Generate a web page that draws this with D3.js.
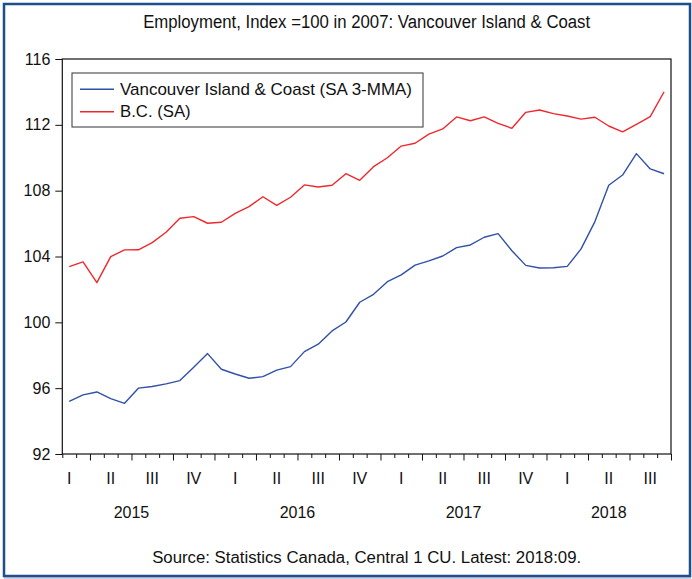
<!DOCTYPE html>
<html>
<head>
<meta charset="utf-8">
<script src="https://cdn.jsdelivr.net/npm/d3@7"></script>
<style>
  body { margin: 0; background: #fff; }
  svg text { font-family: "Liberation Sans", Arial, sans-serif; fill: #111; }
</style>
</head>
<body>
<svg id="chart" width="692" height="579"></svg>
<script>
// monthly periods, Jan 2015 - Aug 2018
const months = [
  '2015:01','2015:02','2015:03','2015:04','2015:05','2015:06','2015:07','2015:08','2015:09','2015:10','2015:11','2015:12',
  '2016:01','2016:02','2016:03','2016:04','2016:05','2016:06','2016:07','2016:08','2016:09','2016:10','2016:11','2016:12',
  '2017:01','2017:02','2017:03','2017:04','2017:05','2017:06','2017:07','2017:08','2017:09','2017:10','2017:11','2017:12',
  '2018:01','2018:02','2018:03','2018:04','2018:05','2018:06','2018:07','2018:08'
];

const vancouverIsland = [
  95.2, 95.59, 95.77, 95.36, 95.08, 96.0, 96.1, 96.26, 96.46, 97.27, 98.1, 97.15,
  96.86, 96.6, 96.7, 97.1, 97.31, 98.22, 98.67, 99.48, 100.02, 101.22, 101.7, 102.47,
  102.88, 103.48, 103.73, 104.03, 104.54, 104.7, 105.17, 105.39, 104.35, 103.46, 103.3, 103.32,
  103.4, 104.46, 106.12, 108.33, 108.95, 110.25, 109.32, 109.03
];

const bc = [
  103.38, 103.67, 102.41, 103.99, 104.4, 104.41, 104.84, 105.47, 106.32, 106.42, 106.02, 106.08,
  106.62, 107.03, 107.63, 107.11, 107.6, 108.35, 108.22, 108.33, 109.03, 108.63, 109.46, 110.0,
  110.71, 110.88, 111.44, 111.75, 112.48, 112.25, 112.48, 112.09, 111.79, 112.76, 112.9, 112.68,
  112.54, 112.35, 112.46, 111.93, 111.57, 112.03, 112.5, 114.01
];

const quarterLabels = ['I','II','III','IV','I','II','III','IV','I','II','III','IV','I','II','III'];
const yearLabels = ['2015','2016','2017','2018'];
const yTicks = [92, 96, 100, 104, 108, 112, 116];

const seriesNames = ['Vancouver Island & Coast (SA 3-MMA)', 'B.C. (SA)'];
const seriesColors = ['#3150a8', '#f0282d'];

const svg = d3.select('#chart');
const plot = { left: 62.3, right: 671, top: 59, bottom: 454 };

// outer frame
svg.append('line')
  .attr('x1', 4).attr('x2', 691).attr('y1', 578).attr('y2', 578)
  .attr('stroke', '#b4c2d8').attr('stroke-width', 1.5);
svg.append('rect')
  .attr('x', 4).attr('y', 4).attr('width', 686).attr('height', 572)
  .attr('fill', 'none').attr('stroke', '#1f4e8c').attr('stroke-width', 2.5);

const x = d3.scaleLinear().domain([0, months.length]).range([plot.left, plot.right]);
const y = d3.scaleLinear().domain([92, 116]).range([plot.bottom, plot.top]);

// title
svg.append('text')
  .attr('x', (plot.left + plot.right) / 2).attr('y', 27.5)
  .attr('text-anchor', 'middle')
  .attr('font-size', 18)
  .attr('textLength', 447).attr('lengthAdjust', 'spacingAndGlyphs')
  .text('Employment, Index =100 in 2007: Vancouver Island & Coast');

// y axis
const yAxis = d3.axisLeft(y).tickValues(yTicks).tickSize(7).tickPadding(5);
const gy = svg.append('g')
  .attr('transform', `translate(${plot.left},0)`)
  .call(yAxis);
gy.select('.domain').remove();
gy.selectAll('.tick line').attr('stroke', '#111');
gy.selectAll('.tick text')
  .attr('font-size', 16)
  .attr('font-family', '"Liberation Sans", Arial, sans-serif')
  .attr('fill', '#111');

// x axis: monthly ticks at period boundaries
const xAxis = d3.axisBottom(x).tickValues(d3.range(0, months.length + 1)).tickSize(4).tickFormat('');
const gx = svg.append('g')
  .attr('transform', `translate(0,${plot.bottom})`)
  .call(xAxis);
gx.select('.domain').remove();
gx.selectAll('.tick line')
  .attr('stroke', '#111')
  .attr('y2', d => d % 3 === 2 ? 6.5 : 4);

// plot frame
svg.append('rect')
  .attr('x', plot.left).attr('y', plot.top)
  .attr('width', plot.right - plot.left).attr('height', plot.bottom - plot.top)
  .attr('fill', 'none').attr('stroke', '#111').attr('stroke-width', 1.2);

// quarter and year labels
const qPos = quarterLabels.map((q, i) => x(i * 3 + 0.5));
svg.append('g').selectAll('text')
  .data(quarterLabels)
  .join('text')
  .attr('x', (d, i) => qPos[i])
  .attr('y', 483.5)
  .attr('text-anchor', 'middle')
  .attr('font-size', 16)
  .text(d => d);

svg.append('g').selectAll('text')
  .data(yearLabels)
  .join('text')
  .attr('x', (d, i) => d3.mean(qPos.slice(i * 4, i * 4 + 4)))
  .attr('y', 518)
  .attr('text-anchor', 'middle')
  .attr('font-size', 16)
  .text(d => d);

// lines
const line = d3.line()
  .x((d, i) => x(i + 0.5))
  .y(d => y(d));

[vancouverIsland, bc].forEach((s, k) => {
  svg.append('path')
    .datum(s)
    .attr('d', line)
    .attr('fill', 'none')
    .attr('stroke', seriesColors[k])
    .attr('stroke-width', 1.4)
    .attr('stroke-linejoin', 'round');
});

// legend
const legend = svg.append('g');
legend.append('rect')
  .attr('x', 72).attr('y', 73).attr('width', 351).attr('height', 54)
  .attr('fill', '#fff').attr('stroke', '#333').attr('stroke-width', 1);
const legendTextLen = [292, 70.7];
seriesNames.forEach((name, k) => {
  const ly = 89.3 + k * 22.4;
  legend.append('line')
    .attr('x1', 80).attr('x2', 114).attr('y1', ly).attr('y2', ly)
    .attr('stroke', seriesColors[k]).attr('stroke-width', 1.4);
  legend.append('text')
    .attr('x', 120).attr('y', ly + 5.5)
    .attr('font-size', 17)
    .attr('textLength', legendTextLen[k]).attr('lengthAdjust', 'spacingAndGlyphs')
    .text(name);
});

// source note
svg.append('text')
  .attr('x', (plot.left + plot.right) / 2).attr('y', 562.7)
  .attr('text-anchor', 'middle')
  .attr('font-size', 16)
  .attr('textLength', 429).attr('lengthAdjust', 'spacingAndGlyphs')
  .text('Source: Statistics Canada, Central 1 CU. Latest: 2018:09.');
</script>
</body>
</html>
